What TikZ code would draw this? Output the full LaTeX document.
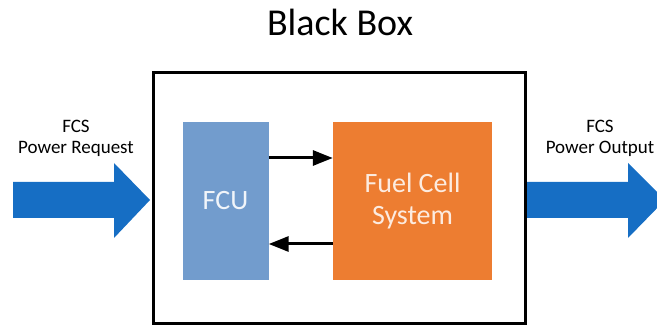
\documentclass[tikz,border=0pt]{standalone}
\usepackage{fontspec}
\setmainfont{Carlito}
\usepackage{tikz}
\usetikzlibrary{positioning,arrows.meta,calc}
\usepackage{xcolor}
\definecolor{fcublue}{RGB}{114,156,205}
\definecolor{fcsorange}{RGB}{237,125,49}
\definecolor{flowblue}{RGB}{22,110,196}

\begin{document}
\begin{tikzpicture}[x=1pt,y=-1pt,every node/.style={font=\fontsize{19}{21}\selectfont}]
\useasboundingbox (0,0) rectangle (657,326);
\node[font=\fontsize{38}{40}\selectfont] (title) at (340,22) {Black Box};
\node[draw,line width=3pt,minimum width=372pt,minimum height=251pt] (box) at (339.5,198) {};
\node[fill=fcublue,minimum width=86pt,minimum height=158pt,text=white,text opacity=0.9,font=\fontsize{28}{30}\selectfont] (fcu) at (225.5,201) {FCU};
\node[fill=fcsorange,minimum width=159pt,minimum height=158pt,text=white,text opacity=0.85,align=center,font=\fontsize{28}{32}\selectfont] (fcs) at (412.5,201) {Fuel Cell\\ System};
\draw[-{Triangle[length=20pt,width=15pt]},line width=3pt] ([yshift=43pt]fcu.east) -- ([yshift=43pt]fcs.west);
\draw[-{Triangle[length=20pt,width=15pt]},line width=3pt] ([yshift=-43pt]fcs.west) -- ([yshift=-43pt]fcu.east);
% power flow in and out of the box
\fill[flowblue] (13,182) -- (114,182) -- (114,163) -- (150,200) -- (114,238) -- (114,218) -- (13,218) -- cycle;
\fill[flowblue] (527,182) -- (628,182) -- (628,163) -- (665,200) -- (628,238) -- (628,218) -- (527,218) -- cycle;
\node[align=center] (request) at (76,138) {FCS\\ Power Request};
\node[align=center] (output) at (600,138) {FCS\\ Power Output};
\end{tikzpicture}
\end{document}
